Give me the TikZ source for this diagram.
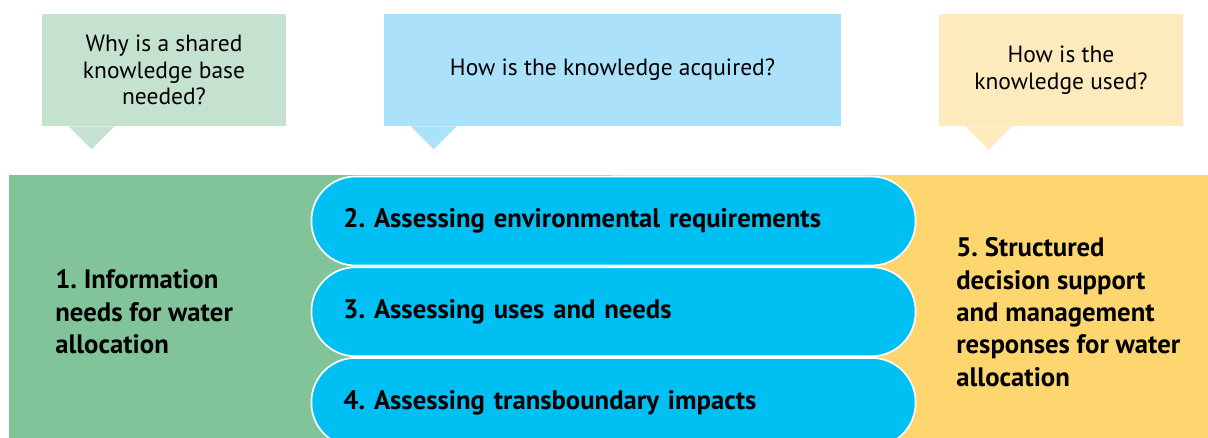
\documentclass[tikz,border=0pt]{standalone}
\usepackage{fontspec}
\setmainfont{PT Sans}
\usetikzlibrary{positioning}

\definecolor{askgreen}{HTML}{C5E2D0}
\definecolor{askblue}{HTML}{ABE1FA}
\definecolor{askyellow}{HTML}{FDEBBE}
\definecolor{needgreen}{HTML}{82C49A}
\definecolor{stepblue}{HTML}{00BFF3}
\definecolor{useyellow}{HTML}{FDD670}

\begin{document}
\frenchspacing
\begin{tikzpicture}[
    x=0.025cm, y=-0.025cm,
    callout/.style={minimum height=2.8cm, inner sep=0pt, align=center, font=\fontsize{16.7}{19}\selectfont},
    panel/.style={minimum height=6.7cm, inner sep=0pt},
    stepbox/.style={draw=white, line width=1.2pt, fill=stepblue, rounded corners=1.1cm, minimum height=2.225cm,
        text width=13.5cm, inner xsep=0.8cm, inner ysep=0pt, align=left, font=\fontsize{19}{23}\selectfont\bfseries},
    paneltext/.style={align=left, anchor=west, inner sep=0pt, font=\fontsize{19}{23}\selectfont\bfseries}
]
\useasboundingbox (0,0) rectangle (1208,437);
\clip (0,0) rectangle (1208,437);

% Questions
\node[callout, fill=askgreen, minimum width=6.1cm] (why) at (164,70) {Why is a shared\\knowledge base\\needed?};
\node[callout, fill=askblue, minimum width=11.425cm] (how) at (612.5,70) {How is the knowledge acquired?};
\node[callout, fill=askyellow, minimum width=6.1cm] (use) at (1061,70) {How is the\\knowledge used?};

% Pointers
\foreach \n/\c in {why/askgreen, how/askblue, use/askyellow}
    \fill[\c] (\n.south west) ++(27,0) -- ++(23,23) -- ++(23,-23) -- cycle;

% Side panels
\node[panel, fill=needgreen, minimum width=15.075cm] (need) at (310.5,309) {};
\node[panel, fill=useyellow, minimum width=14.9cm, right=0pt of need] (decide) {};

\node[paneltext] (needtext) at (55,312) {1. Information\\needs for water\\allocation};
\node[paneltext] (decidetext) at (956,312) {5. Structured\\decision support\\and management\\responses for water\\allocation};

% Assessment steps
\node[stepbox] (env) at (613.5,221) {2. Assessing environmental requirements};
\node[stepbox, below=0pt of env] (uses) {3. Assessing uses and needs};
\node[stepbox, below=0pt of uses] (trans) {4. Assessing transboundary impacts};

\end{tikzpicture}
\end{document}
